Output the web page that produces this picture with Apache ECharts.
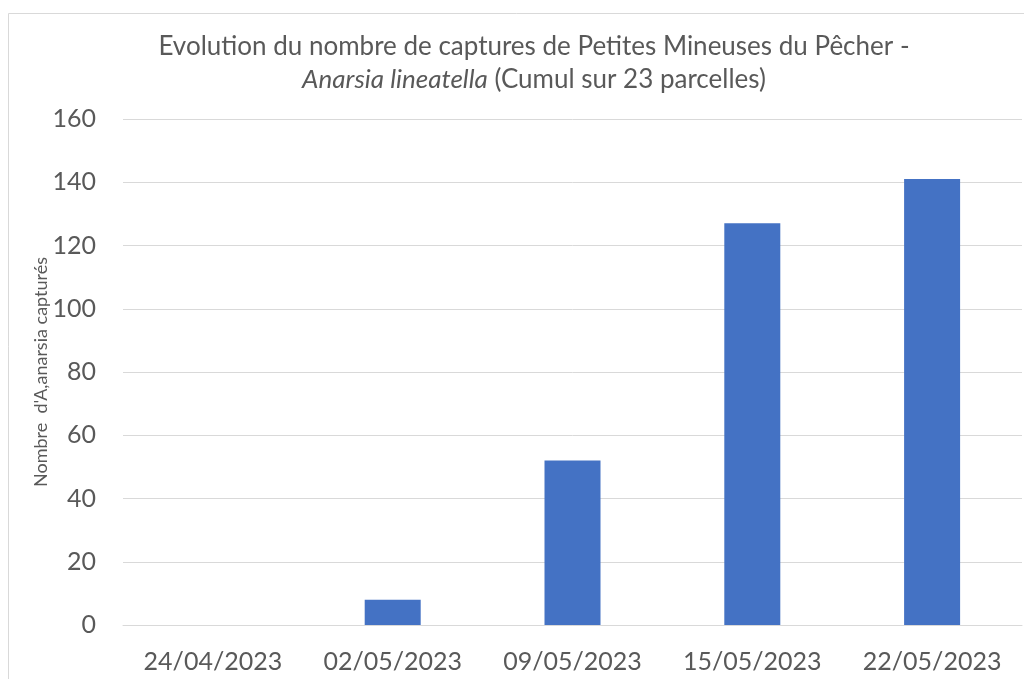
<!DOCTYPE html>
<html><head><meta charset="utf-8">
<script src="https://cdn.jsdelivr.net/npm/echarts@6/dist/echarts.min.js"></script>
<style>html,body{margin:0;padding:0;background:#fff}#c{width:1024px;height:679px}</style>
</head><body><div id="c"></div>
<script>
const categories = ['24/04/2023','02/05/2023','09/05/2023','15/05/2023','22/05/2023'];
const captures = [0, 8, 52, 127, 141];
const yTicks = {min: 0, max: 160, interval: 20};
const titleLine1 = 'Evolution du nombre de captures de Petites Mineuses du Pêcher -';
const titleItalic = 'Anarsia lineatella';
const titleRest = ' (Cumul sur 23 parcelles)';
const yName = "Nombre  d'A,anarsia capturés";

const font = 'Lato, Open Sans, sans-serif';
const chart = echarts.init(document.getElementById('c'), null, {renderer:'canvas'});
chart.setOption({
  backgroundColor: '#fff',
  animation: false,
  graphic: [{
    type: 'rect', shape: {x: 8.5, y: 13.5, width: 1100, height: 800},
    style: {fill: 'none', stroke: '#d9d9d9', lineWidth: 1}, silent: true, z: -1
  }],
  title: {
    text: '{n|' + titleLine1 + '}\n{i|' + titleItalic + '}{n|' + titleRest + '}',
    left: 529, textAlign: 'center', top: 25,
    textStyle: {
      rich: {
        n: {fontFamily: font, fontSize: 26, fontWeight: 'normal', color: '#595959', lineHeight: 33},
        i: {fontFamily: font, fontSize: 26, fontWeight: 'normal', color: '#595959', fontStyle: 'italic', lineHeight: 33}
      }
    }
  },
  grid: {left: 123, right: 2, top: 119, bottom: 54, containLabel: false},
  xAxis: {
    type: 'category', data: categories,
    axisLine: {show: true, lineStyle: {color: '#d9d9d9', width: 1}},
    axisTick: {show: false},
    axisLabel: {fontFamily: font, fontSize: 25, color: '#595959', margin: 24, interval: 0}
  },
  yAxis: {
    type: 'value', min: yTicks.min, max: yTicks.max, interval: yTicks.interval,
    name: yName, nameLocation: 'middle', nameGap: 73, nameRotate: 90,
    nameMoveOverlap: false,
    nameTextStyle: {fontFamily: font, fontSize: 18, color: '#595959'},
    axisLine: {show: false}, axisTick: {show: false},
    axisLabel: {fontFamily: font, fontSize: 25, color: '#595959', margin: 27},
    splitLine: {lineStyle: {color: '#d9d9d9', width: 1}}
  },
  series: [{
    type: 'bar', data: captures, barWidth: 56,
    itemStyle: {color: '#4472c4'}
  }]
});
</script></body></html>
